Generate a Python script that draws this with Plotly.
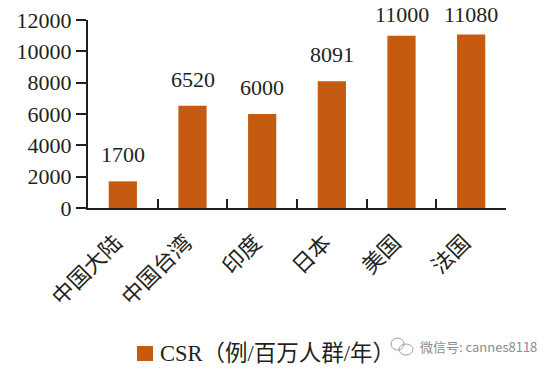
import plotly.graph_objects as go

categories = ["中国大陆", "中国台湾", "印度", "日本", "美国", "法国"]
values = [1700, 6520, 6000, 8091, 11000, 11080]
series_name = "CSR（例/百万人群/年）"
watermark = "微信号: cannes8118"
y_ticks = [0, 2000, 4000, 6000, 8000, 10000, 12000]

COLOR = "#C55A11"
INK = "#231F20"
FONT = "Liberation Serif, Noto Sans CJK SC"
LABEL_LIFT = [12, 12, 12, 12, 7, 5]

def px(x): return (x - 88) / 418
def py(y): return (208 - y) / 188

fig = go.Figure()
fig.add_trace(go.Bar(
    x=categories, y=values, width=0.405, name=series_name,
    marker=dict(color=COLOR, line_width=0), showlegend=False,
))
annotations = [
    dict(x=c, y=v, xref="x", yref="y", text=str(v), showarrow=False, yanchor="bottom",
         yshift=lift, font=dict(family=FONT, size=22, color=INK))
    for c, v, lift in zip(categories, values, LABEL_LIFT)
]
annotations += [
    dict(text=series_name, xref="paper", yref="paper", x=px(160), y=py(353),
         xanchor="left", yanchor="middle", showarrow=False, xshift=-2,
         font=dict(family=FONT, size=22.5, color=INK)),
    dict(text=watermark, xref="paper", yref="paper", x=px(420), y=py(346),
         xanchor="left", yanchor="middle", showarrow=False, xshift=-2,
         font=dict(family="Noto Sans CJK SC", size=13, color="#8C8C8C")),
]
shapes = [
    dict(type="rect", xref="paper", yref="paper", x0=px(137), x1=px(153), y0=py(361), y1=py(346),
         fillcolor=COLOR, line_width=0),
    dict(type="circle", xref="paper", yref="paper", x0=px(391), x1=px(404), y0=py(350), y1=py(338),
         line=dict(color="#A0A0A0", width=1)),
    dict(type="circle", xref="paper", yref="paper", x0=px(399), x1=px(413), y0=py(355), y1=py(344),
         line=dict(color="#A0A0A0", width=1)),
]
fig.update_layout(
    width=554, height=371, autosize=False,
    margin=dict(l=88, r=48, t=20, b=163, autoexpand=False),
    paper_bgcolor="white", plot_bgcolor="white",
    font=dict(family=FONT, color=INK),
    showlegend=False, annotations=annotations, shapes=shapes,
)
fig.update_xaxes(
    type="category", range=[-0.5, 5.5], tickson="boundaries", ticks="inside", ticklen=9,
    tickwidth=1.5, tickcolor=INK, showline=True, linecolor=INK, linewidth=2,
    tickangle=-45, showgrid=False, zeroline=False, automargin=False,
    ticklabelstandoff=11, ticklabelshift=-7,
    tickfont=dict(family="Noto Sans CJK SC", size=22, color=INK),
)
fig.update_yaxes(
    range=[0, 12000], tickvals=y_ticks, tickformat="d", ticks="outside", ticklen=10, tickwidth=1.5,
    tickcolor=INK, showline=True, linecolor=INK, linewidth=2, showgrid=False, zeroline=False,
    automargin=False, tickfont=dict(family="Liberation Serif", size=22, color=INK),
)
fig.write_html("out.html", config={"displayModeBar": False},
               post_script="document.body.style.margin='0';")
